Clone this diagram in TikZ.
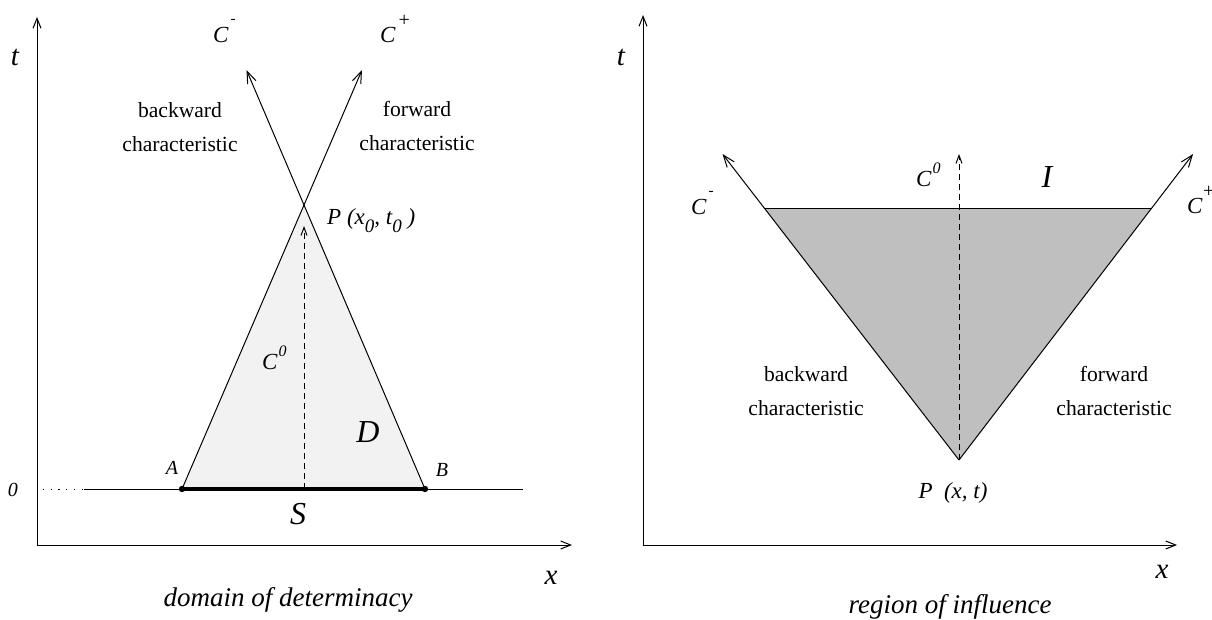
\documentclass[tikz,border=0pt]{standalone}
\usepackage{fontspec}
\setmainfont{Liberation Serif}
\usetikzlibrary{arrows.meta,calc}
\newcommand\fs[1]{\fontsize{#1}{#1}\selectfont}
\newcommand\supm{\kern2pt\raisebox{19pt}{\upshape\fs{15}-}}
\newcommand\supp{\kern3pt\raisebox{16pt}{\upshape\fs{20}+}}
\newcommand\suppe{\kern0.5pt\raisebox{16pt}{\upshape\fs{20}+}}
\newcommand\supz{\kern1pt\raisebox{13pt}{\fs{16}0}}
\newcommand\subz{\raisebox{-8pt}{\fs{19}0}}
\tikzset{
  axisline/.style={line width=1pt,-{Straight Barb[length=10pt,width=8pt]}},
  charline/.style={line width=1pt,-{Straight Barb[length=12pt,width=9pt]}},
  dashline/.style={line width=1pt,dash pattern=on 6pt off 4pt,-{Straight Barb[length=8pt,width=6pt]}},
  plain/.style={line width=1pt},
  lbl/.style={inner sep=0pt,font=\fs{23}\itshape},
  big/.style={inner sep=0pt,font=\fs{32}\itshape},
  small/.style={inner sep=0pt,font=\fs{20}\itshape},
  axl/.style={inner sep=0pt,font=\fs{29}\itshape},
  words/.style={inner sep=0pt,align=center,font=\fs{21.6}\linespread{1.55}\selectfont},
  captext/.style={inner sep=0pt,font=\fs{27}\itshape},
}
\begin{document}
\begin{tikzpicture}[x=1pt,y=-1pt]
\useasboundingbox (0,0) rectangle (1212,620);
% ---------------- left panel ----------------
\coordinate (O1) at (37,545);
\coordinate (T1) at (37,17);
\coordinate (X1) at (572,545);
\coordinate (Z0) at (43,489);
\coordinate (Z1) at (84,489);
\coordinate (Z2) at (523,489);
\coordinate (A) at (182,489);
\coordinate (B) at (425,489);
\coordinate (P) at (304,205);
\coordinate (S0) at (304,489);
\coordinate (Pd) at (304,226);
\coordinate (CP) at ($(A)!1.475!(P)$);
\coordinate (CM) at ($(B)!1.475!(P)$);
\fill[black!5] (A) -- (P) -- (B) -- cycle;
\draw[axisline] (O1) -- (T1);
\draw[axisline] (O1) -- (X1);
\draw[line width=1pt,dash pattern=on 1.2pt off 6.5pt] (Z0) -- (Z1);
\draw[plain] (Z1) -- (Z2);
\draw[charline] (A) -- (CP);
\draw[charline] (B) -- (CM);
\draw[dashline] (S0) -- (Pd);
\draw[line width=4.5pt] (A) -- (B);
\fill (A) circle (3.2pt);
\fill (B) circle (3.2pt);
\node[axl] (tl1) at (15,57) {t};
\node[axl] (xl1) at (551,578) {x};
\node[small] (zero) at (13,490) {0};
\node[small] (Al) at (172,468) {A};
\node[small] (Bl) at (442,470) {B};
\node[lbl,anchor=base west] (Cm1) at (213,43) {C\supm};
\node[lbl,anchor=base west] (Cp1) at (380,43) {C\supp};
\node[words] (bw1) at (180,127) {backward\\characteristic};
\node[words] (fw1) at (417,126) {forward\\characteristic};
\node[lbl,anchor=base west] (Pl1) at (327,225) {P (x\subz, t\subz{} )};
\node[lbl,anchor=base west] (C01) at (262,369) {C\supz};
\node[big] (Dl) at (368,432) {D};
\node[big] (Sl) at (298,514) {S};
\node[captext] (cap1) at (288,600) {domain of determinacy};
% ---------------- right panel ----------------
\coordinate (O2) at (643,545);
\coordinate (T2) at (643,15);
\coordinate (X2) at (1177,545);
\coordinate (Q) at (959,460);
\coordinate (L) at (765,209);
\coordinate (R) at (1151,209);
\coordinate (Qd) at (959,154);
\coordinate (CM2) at ($(Q)!1.219!(L)$);
\coordinate (CP2) at ($(Q)!1.219!(R)$);
\fill[black!25] (L) -- (R) -- (Q) -- cycle;
\draw[axisline] (O2) -- (T2);
\draw[axisline] (O2) -- (X2);
\draw[plain] (L) -- (R);
\draw[charline] (Q) -- (CM2);
\draw[charline] (Q) -- (CP2);
\draw[dashline] (Q) -- (Qd);
\node[axl] (tl2) at (621,57) {t};
\node[axl] (xl2) at (1162,572) {x};
\node[lbl,anchor=base west] (Cm2) at (691,215) {C\supm};
\node[lbl,anchor=base west] (Cp2) at (1187,214) {C\suppe};
\node[lbl,anchor=base west] (C02) at (916,187) {C\supz};
\node[big] (Il) at (1047,177) {I};
\node[words] (bw2) at (806,391) {backward\\characteristic};
\node[words] (fw2) at (1114,391) {forward\\characteristic};
\node[lbl] (Pl2) at (953,493) {P\ \ (x, t)};
\node[captext] (cap2) at (950,607) {region of influence};
\end{tikzpicture}
\end{document}
